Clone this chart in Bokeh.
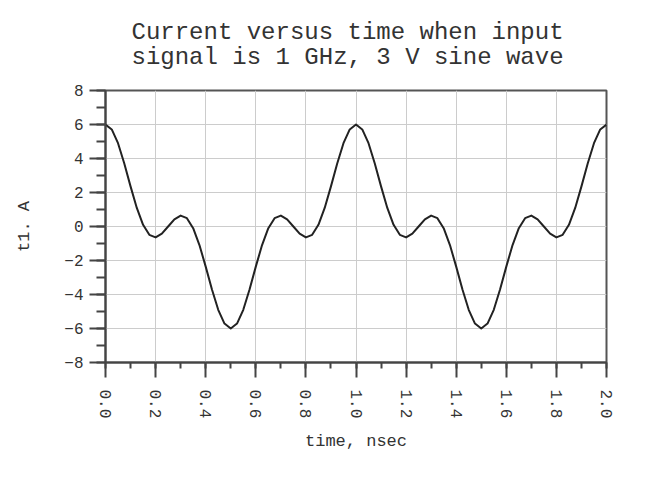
import math
from bokeh.plotting import figure
from bokeh.models import Range1d, SingleIntervalTicker, PrintfTickFormatter, Title
from bokeh.embed import file_html
from bokeh.resources import INLINE

title_lines = ["Current versus time when input", "signal is 1 GHz, 3 V sine wave"]
x_label = "time, nsec"
y_label = "t1. A"

time_ns = [0.000, 0.025, 0.050, 0.075, 0.100, 0.125, 0.150, 0.175, 0.200, 0.225,
           0.250, 0.275, 0.300, 0.325, 0.350, 0.375, 0.400, 0.425, 0.450, 0.475,
           0.500, 0.525, 0.550, 0.575, 0.600, 0.625, 0.650, 0.675, 0.700, 0.725,
           0.750, 0.775, 0.800, 0.825, 0.850, 0.875, 0.900, 0.925, 0.950, 0.975,
           1.000, 1.025, 1.050, 1.075, 1.100, 1.125, 1.150, 1.175, 1.200, 1.225,
           1.250, 1.275, 1.300, 1.325, 1.350, 1.375, 1.400, 1.425, 1.450, 1.475,
           1.500, 1.525, 1.550, 1.575, 1.600, 1.625, 1.650, 1.675, 1.700, 1.725,
           1.750, 1.775, 1.800, 1.825, 1.850, 1.875, 1.900, 1.925, 1.950, 1.975,
           2.000]

current_a = [6.00, 5.71, 4.90, 3.71, 2.36, 1.09, 0.10, -0.49, -0.64, -0.42,
             0.00, 0.42, 0.64, 0.49, -0.10, -1.09, -2.36, -3.71, -4.90, -5.71,
             -6.00, -5.71, -4.90, -3.71, -2.36, -1.09, -0.10, 0.49, 0.64, 0.42,
             0.00, -0.42, -0.64, -0.49, 0.10, 1.09, 2.36, 3.71, 4.90, 5.71,
             6.00, 5.71, 4.90, 3.71, 2.36, 1.09, 0.10, -0.49, -0.64, -0.42,
             0.00, 0.42, 0.64, 0.49, -0.10, -1.09, -2.36, -3.71, -4.90, -5.71,
             -6.00, -5.71, -4.90, -3.71, -2.36, -1.09, -0.10, 0.49, 0.64, 0.42,
             0.00, -0.42, -0.64, -0.49, 0.10, 1.09, 2.36, 3.71, 4.90, 5.71,
             6.00]

x_start, x_end, x_step = 0.0, 2.0, 0.2
y_start, y_end, y_step = -8, 8, 2

FONT = "Liberation Mono"
INK = "#333333"

p = figure(width=643, height=461, output_backend="svg", toolbar_location=None,
           x_range=Range1d(x_start, x_end), y_range=Range1d(y_start, y_end),
           min_border_left=105, min_border_right=37, min_border_top=90,
           min_border_bottom=99, title=None)
p.background_fill_color = "white"
p.border_fill_color = "white"
p.outline_line_color = "#555555"
p.outline_line_width = 2

p.line(time_ns, current_a, line_color="#222222", line_width=2, line_join="round")

title = Title(text="\n".join(title_lines), text_font=FONT, text_font_size="24px",
              text_font_style="normal", text_color=INK, align="left", offset=26,
              vertical_align="top", standoff=34, text_line_height=0.95)
p.add_layout(title, "above")

xa = p.xaxis[0]
xa.ticker = SingleIntervalTicker(interval=x_step, num_minor_ticks=2)
xa.formatter = PrintfTickFormatter(format="%.1f")
xa.major_label_orientation = -math.pi / 2
xa.axis_label = x_label
ya = p.yaxis[0]
ya.ticker = SingleIntervalTicker(interval=y_step, num_minor_ticks=2)
ya.axis_label = y_label

for ax in (xa, ya):
    ax.axis_line_color = "#444444"
    ax.axis_line_width = 2
    ax.major_tick_line_color = "#444444"
    ax.major_tick_line_width = 2
    ax.minor_tick_line_color = "#444444"
    ax.minor_tick_line_width = 2
    ax.major_tick_in = 0
    ax.minor_tick_in = 0
    ax.major_label_text_font = FONT
    ax.major_label_text_font_size = "16px"
    ax.major_label_text_color = INK
    ax.axis_label_text_font = FONT
    ax.axis_label_text_font_size = "17px"
    ax.axis_label_text_font_style = "normal"
    ax.axis_label_text_color = INK

xa.major_tick_out = 15
xa.minor_tick_out = 6
xa.major_label_standoff = 12
xa.axis_label_standoff = 11
ya.major_tick_out = 16
ya.minor_tick_out = 9
ya.major_label_standoff = 6
ya.axis_label_standoff = 27

p.xgrid.grid_line_color = "#cccccc"
p.xgrid.grid_line_width = 1
p.ygrid.grid_line_color = "#cccccc"
p.ygrid.grid_line_width = 1

open("out.html", "w").write(file_html(p, INLINE))
